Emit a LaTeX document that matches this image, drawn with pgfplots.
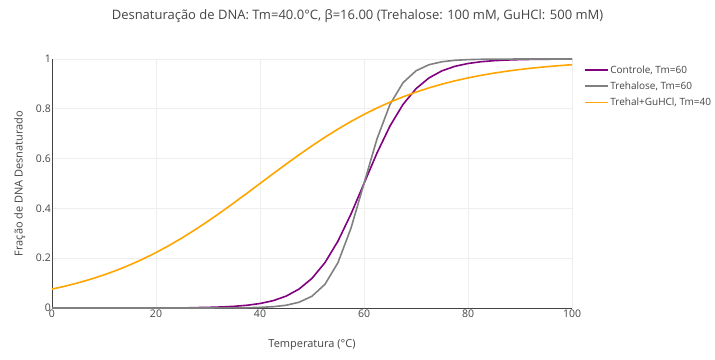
\documentclass[border=0pt]{standalone}
\usepackage{fontspec}
\setmainfont{Open Sans}
\usepackage{pgfplots}
\pgfplotsset{compat=1.18}
\definecolor{txt}{HTML}{444444}
\definecolor{gridc}{HTML}{EEEEEE}
\definecolor{cpurple}{HTML}{800080}
\definecolor{cgrey}{HTML}{808080}
\definecolor{corange}{HTML}{FFA500}
\begin{document}
\begin{tikzpicture}
\path[use as bounding box] (0,0) rectangle (715bp,360bp);
\begin{axis}[
  at={(52bp,52bp)}, anchor=south west,
  scale only axis, width=520bp, height=249bp,
  xmin=0, xmax=100, ymin=0, ymax=1,
  xtick={0,20,40,60,80,100},
  ytick={0,0.2,0.4,0.6,0.8,1},
  yticklabels={0,0.2,0.4,0.6,0.8,1},
  axis x line*=bottom, axis y line*=left,
  axis line style={-, draw=txt, line width=0.9bp},
  major tick length=0pt,
  grid=major,
  major grid style={gridc, line width=0.9bp},
  /pgf/number format/assume math mode=true,
  tick label style={font=\fontsize{10.5bp}{12bp}\selectfont, text=txt},
  yticklabel style={inner sep=1bp},
  xticklabel style={inner sep=1.5bp},
  xlabel={Temperatura (°C)},
  ylabel={Fração de DNA Desnaturado},
  label style={font=\fontsize{11bp}{13bp}\selectfont, text=txt},
  xlabel style={at={(axis description cs:0.5,-0.149)}, anchor=center},
  ylabel style={at={(axis description cs:-0.062,0.5)}, anchor=center},
  legend style={at={(rel axis cs:1.0165,0.99)}, anchor=north west, draw=none, fill=none,
    font=\fontsize{10bp}{12bp}\selectfont, text=txt, row sep=3bp,
    cells={anchor=west}},
  legend image code/.code={\draw[#1, line width=1.6bp] (0bp,0bp) -- (23bp,0bp);},
  clip=false,
]
\addplot[cpurple, line width=1.6bp] coordinates {
(0,0) (2.5,0) (5,0) (7.5,0) (10,0) (12.5,0) (15,0) (17.5,0) (20,0.0000) (22.5,0.0001) (25,0.0001) (27.5,0.0015)
(30,0.0025) (32.5,0.0041) (35,0.0067) (37.5,0.0110) (40,0.0180) (42.5,0.0293) (45,0.0474) (47.5,0.0759)
(50,0.1192) (52.5,0.1824) (55,0.2689) (57.5,0.3775) (60,0.5) (62.5,0.6225) (65,0.7311) (67.5,0.8176)
(70,0.8808) (72.5,0.9241) (75,0.9526) (77.5,0.9707) (80,0.9820) (82.5,0.9890) (85,0.9933) (87.5,0.9959)
(90,0.9975) (92.5,0.9985) (95,0.9991) (97.5,0.9994) (100,0.9997)};
\addlegendentry{Controle, Tm=60}
\addplot[cgrey, line width=1.6bp] coordinates {
(0,0) (2.5,0) (5,0) (7.5,0) (10,0) (12.5,0) (15,0) (17.5,0) (20,0) (22.5,0) (25,0) (27.5,0)
(30,0.0001) (32.5,0.0003) (35,0.0006) (37.5,0.0012) (40,0.0025) (42.5,0.0052) (45,0.0110) (47.5,0.0230)
(50,0.0474) (52.5,0.0953) (55,0.1824) (57.5,0.3208) (60,0.5) (62.5,0.6792) (65,0.8176) (67.5,0.9047)
(70,0.9526) (72.5,0.9770) (75,0.9890) (77.5,0.9948) (80,0.9975) (82.5,0.9988) (85,0.9994) (87.5,0.9997)
(90,0.9999) (92.5,1) (95,1) (97.5,1) (100,1)};
\addlegendentry{Trehalose, Tm=60}
\addplot[corange, line width=1.6bp] coordinates {
(0,0.0759) (2.5,0.0876) (5,0.1009) (7.5,0.1160) (10,0.1330) (12.5,0.1520) (15,0.1733) (17.5,0.1968)
(20,0.2227) (22.5,0.2509) (25,0.2814) (27.5,0.3141) (30,0.3487) (32.5,0.3849) (35,0.4225) (37.5,0.4610)
(40,0.5) (42.5,0.5390) (45,0.5775) (47.5,0.6151) (50,0.6513) (52.5,0.6859) (55,0.7186) (57.5,0.7491)
(60,0.7773) (62.5,0.8032) (65,0.8267) (67.5,0.8480) (70,0.8670) (72.5,0.8840) (75,0.8991) (77.5,0.9124)
(80,0.9241) (82.5,0.9344) (85,0.9433) (87.5,0.9511) (90,0.9579) (92.5,0.9638) (95,0.9689) (97.5,0.9733) (100,0.9770)};
\addlegendentry{Trehal+GuHCl, Tm=40}
\end{axis}
\node[font=\fontsize{13bp}{15bp}\selectfont, text=txt] at (357.5bp,344bp) {Desnaturação de DNA: Tm=40.0°C, β=16.00 (Trehalose: 100 mM, GuHCl: 500 mM)};
\end{tikzpicture}
\end{document}
